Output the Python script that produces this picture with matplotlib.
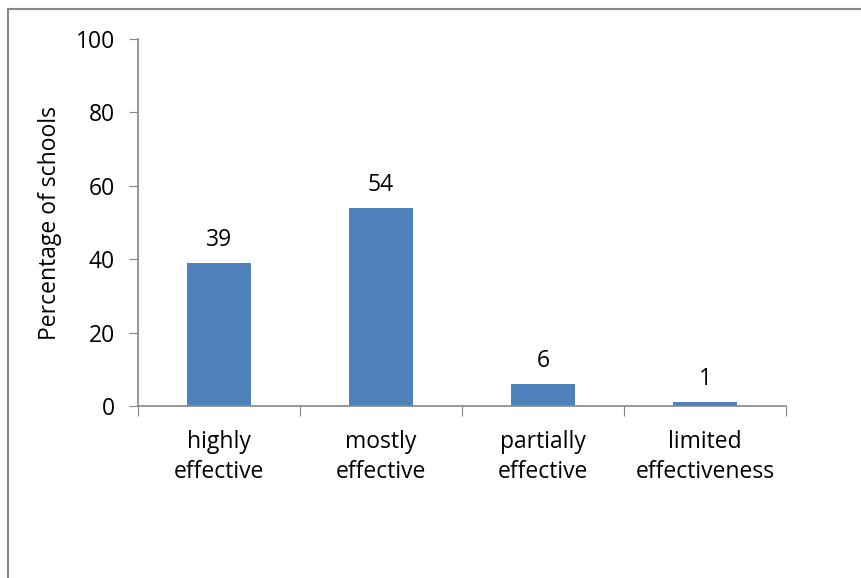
import matplotlib.pyplot as plt
from matplotlib.patches import Rectangle
import numpy as np

# 数据
categories = ["highly\neffective", "mostly\neffective", "partially\neffective", "limited\neffectiveness"]
values = [39, 54, 6, 1]
y_ticks = [0, 20, 40, 60, 80, 100]

plt.rcParams['font.family'] = ['Open Sans', 'DejaVu Sans']
fs = 16.5

W, H = 861, 578
fig = plt.figure(figsize=(W / 100, H / 100), dpi=100)

# 外框（只露出左边和上边）
fig.patches.append(Rectangle((8 / W, -0.1), 1.2, (H - 9) / H + 0.1, transform=fig.transFigure,
                             fill=False, edgecolor='#888888', linewidth=1.5))

ax = fig.add_axes([138 / W, 172 / H, (786 - 138) / W, (406 - 39) / H])

x = np.arange(len(categories))
ax.bar(x, values, width=0.4, color='#4F81BD', zorder=2)

for xi, v in zip(x, values):
    ax.annotate(str(v), (xi, v), xytext=(0, 8), textcoords='offset points',
                ha='center', va='bottom', fontsize=fs)

ax.set_xlim(-0.5, len(categories) - 0.5)
ax.set_ylim(0, 100)
ax.set_yticks(y_ticks)
ax.tick_params(axis='y', labelsize=fs, length=6.5, color='#868686', pad=10)

# 分类刻度放在格子边界上
ax.set_xticks(np.arange(-0.5, len(categories), 1.0))
ax.set_xticklabels([])
ax.set_xticks(x, minor=True)
ax.set_xticklabels(categories, minor=True, fontsize=fs, linespacing=1.35)
ax.tick_params(axis='x', which='major', length=7, color='#868686')
ax.tick_params(axis='x', which='minor', length=0, pad=17)

for s in ['top', 'right']:
    ax.spines[s].set_visible(False)
for s in ['left', 'bottom']:
    ax.spines[s].set_color('#868686')
    ax.spines[s].set_linewidth(1.2)

ax.set_ylabel("Percentage of schools", fontsize=fs, labelpad=10)

fig.savefig("out.png", dpi=100)
